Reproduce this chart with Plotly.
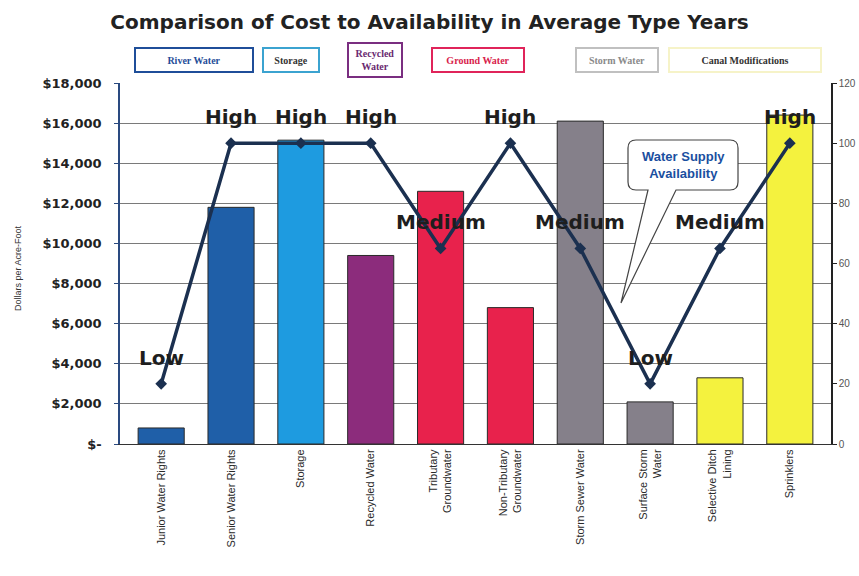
import plotly.graph_objects as go

# ---- data ----
categories = [
    "Junior Water Rights", "Senior Water Rights", "Storage", "Recycled Water",
    "Tributary<br>Groundwater", "Non-Tributary<br>Groundwater", "Storm Sewer Water",
    "Surface Storm<br>Water", "Selective Ditch<br>Lining", "Sprinklers",
]
cost_per_af = [800, 11800, 15150, 9400, 12600, 6800, 16100, 2100, 3300, 16400]
availability = [20, 100, 100, 100, 65, 100, 65, 20, 65, 100]
availability_labels = ["Low", "High", "High", "High", "Medium", "High",
                       "Medium", "Low", "Medium", "High"]
bar_colors = ["#1f5fa8", "#1f5fa8", "#1e9be0", "#8c2c7c", "#e8224c",
              "#e8224c", "#85808a", "#85808a", "#f4f23e", "#f4f23e"]

cost_ticks = [0, 2000, 4000, 6000, 8000, 10000, 12000, 14000, 16000, 18000]
cost_tick_text = ["$-", "$2,000", "$4,000", "$6,000", "$8,000", "$10,000",
                  "$12,000", "$14,000", "$16,000", "$18,000"]
avail_ticks = [0, 20, 40, 60, 80, 100, 120]

legend_items = [
    ("River Water", "#1f4e99", "#1f4e99", 194, 60, 112, 18),
    ("Storage", "#3ba3d0", "#333333", 291, 60, 50, 18),
    ("Recycled<br>Water", "#7a2e80", "#6a2a70", 375, 60, 48, 28),
    ("Ground Water", "#e0245a", "#d81e4c", 478, 60, 86, 18),
    ("Storm Water", "#c0c0c0", "#8a8a8a", 617, 60, 76, 18),
    ("Canal Modifications", "#f6f3c8", "#333333", 745, 60, 146, 18),
]

# plot area in page pixels
L, R, T, B = 120, 831, 83, 444


def px(x):
    return (x - L) / (R - L)


def py(y):
    return (B - y) / (B - T)


fig = go.Figure()

fig.add_trace(go.Bar(
    x=categories, y=cost_per_af,
    marker=dict(color=bar_colors, line=dict(color="#2a2a2a", width=1)),
    yaxis="y", showlegend=False,
))

fig.add_trace(go.Scatter(
    x=categories, y=availability, yaxis="y2",
    mode="lines+markers",
    line=dict(color="#1b3050", width=3.5),
    marker=dict(symbol="diamond", size=9, color="#1b3050"),
    showlegend=False,
))

annotations = []
for cat, val, lab in zip(categories, availability, availability_labels):
    annotations.append(dict(
        x=cat, y=val, xref="x", yref="y2", text="<b>%s</b>" % lab,
        showarrow=False, xanchor="center", yanchor="middle", yshift=26,
        font=dict(family="DejaVu Sans", size=20, color="#1e1e1e"),
    ))

for text, border, color, cx, cy, w, h in legend_items:
    annotations.append(dict(
        x=px(cx), y=py(cy), xref="paper", yref="paper", text="<b>%s</b>" % text,
        showarrow=False, xanchor="center", yanchor="middle",
        width=w, height=h, borderpad=2,
        bordercolor=border, borderwidth=2, bgcolor="white",
        font=dict(family="Liberation Serif", size=10, color=color),
    ))

annotations.append(dict(
    x=px(683), y=py(165), xref="paper", yref="paper",
    text="<b>Water Supply<br>Availability</b>", showarrow=False,
    xanchor="center", yanchor="middle",
    font=dict(family="Liberation Sans", size=13, color="#1a4fa0"),
))

annotations.append(dict(
    x=px(18), y=py(268), xref="paper", yref="paper",
    text="Dollars per Acre-Foot", textangle=-90, showarrow=False,
    xanchor="center", yanchor="middle",
    font=dict(family="Liberation Sans", size=9, color="#333333"),
))

# speech-bubble outline for the availability callout
bx0, bx1, by0, by1, rr = 628, 738, 140, 190, 8
pts = [
    ("M", (bx0 + rr, by0)), ("L", (bx1 - rr, by0)),
    ("Q", (bx1, by0), (bx1, by0 + rr)), ("L", (bx1, by1 - rr)),
    ("Q", (bx1, by1), (bx1 - rr, by1)), ("L", (676, by1)),
    ("L", (621, 303)), ("L", (648, by1)), ("L", (bx0 + rr, by1)),
    ("Q", (bx0, by1), (bx0, by1 - rr)), ("L", (bx0, by0 + rr)),
    ("Q", (bx0, by0), (bx0 + rr, by0)),
]
path = ""
for item in pts:
    cmd = item[0]
    coords = " ".join("%.5f,%.5f" % (px(x), py(y)) for x, y in item[1:])
    path += "%s %s " % (cmd, coords)
path += "Z"

fig.update_layout(
    width=859, height=576,
    margin=dict(l=L, r=859 - R, t=T, b=576 - B),
    paper_bgcolor="white", plot_bgcolor="white",
    bargap=0.34,
    title=dict(
        text="<b>Comparison of Cost to Availability in Average Type Years</b>",
        x=0.5, xanchor="center", y=1 - 22 / 576, yanchor="middle",
        font=dict(family="DejaVu Sans", size=20, color="#222222"),
    ),
    xaxis=dict(
        tickangle=-90, showgrid=False, showline=True, linecolor="#333333",
        linewidth=1, tickfont=dict(family="Liberation Sans", size=11, color="#2a2a2a"),
        ticks="", automargin=False,
    ),
    yaxis=dict(
        range=[0, 18000], tickvals=cost_ticks, ticktext=cost_tick_text,
        showgrid=True, gridcolor="#7a7a7a", gridwidth=1,
        showline=True, linecolor="#2a4a80", linewidth=1.5,
        ticks="outside", ticklen=4, tickcolor="#2a4a80", ticklabelstandoff=10,
        tickfont=dict(family="DejaVu Sans", size=13, color="#222222", weight="bold"),
        zeroline=False, automargin=False,
    ),
    yaxis2=dict(
        range=[0, 120], tickvals=avail_ticks, overlaying="y", side="right",
        showgrid=False, showline=True, linecolor="#222222", linewidth=1.5,
        ticks="outside", ticklen=4, tickcolor="#222222",
        tickfont=dict(family="Liberation Sans", size=10, color="#555555"),
        zeroline=False, automargin=False,
    ),
    annotations=annotations,
    shapes=[dict(type="path", xref="paper", yref="paper", path=path,
                 fillcolor="white", line=dict(color="#444444", width=1.2),
                 layer="above")],
)

fig.write_html("out.html")
